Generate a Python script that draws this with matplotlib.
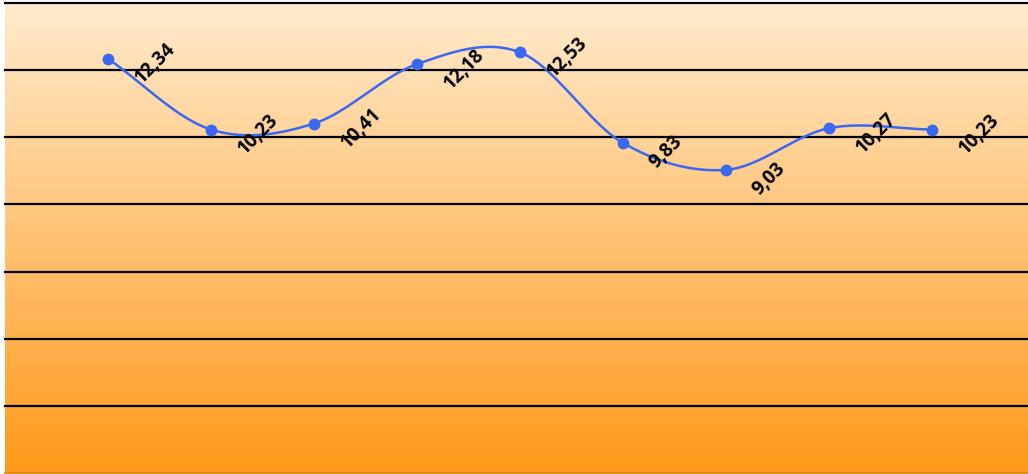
import numpy as np
import matplotlib
matplotlib.use("Agg")
import matplotlib.pyplot as plt
from matplotlib.colors import LinearSegmentedColormap

# Data
categories = [1, 2, 3, 4, 5, 6, 7, 8, 9]
values = [12.34, 10.23, 10.41, 12.18, 12.53, 9.83, 9.03, 10.27, 10.23]
labels = ["12,34", "10,23", "10,41", "12,18", "12,53", "9,83", "9,03", "10,27", "10,23"]
y_ticks = [0, 2, 4, 6, 8, 10, 12, 14]


def catmull_rom(x, y, n=40):
    x = np.asarray(x, float)
    y = np.asarray(y, float)
    px = np.concatenate([[2 * x[0] - x[1]], x, [2 * x[-1] - x[-2]]])
    py = np.concatenate([[2 * y[0] - y[1]], y, [2 * y[-1] - y[-2]]])
    xs, ys = [], []
    t = np.linspace(0, 1, n)
    for i in range(1, len(px) - 2):
        for p, out in ((px, xs), (py, ys)):
            p0, p1, p2, p3 = p[i - 1], p[i], p[i + 1], p[i + 2]
            out.append(0.5 * ((2 * p1) + (-p0 + p2) * t
                              + (2 * p0 - 5 * p1 + 4 * p2 - p3) * t ** 2
                              + (-p0 + 3 * p1 - 3 * p2 + p3) * t ** 3))
    return np.concatenate(xs), np.concatenate(ys)


W, H = 1028, 474
fig = plt.figure(figsize=(W / 100, H / 100), dpi=100)
ax = fig.add_axes([5 / W, 1 / H, 1 - 5 / W, 1 - 4 / H])

xmax = (W - 5) / 103.0
ax.set_xlim(0, xmax)
ax.set_ylim(0, 14)

cmap = LinearSegmentedColormap.from_list("bg", ["#FF991A", "#FFEBCD"])
grad = np.linspace(0, 1, 256).reshape(-1, 1)
ax.imshow(grad, cmap=cmap, origin="lower", aspect="auto",
          extent=[0, xmax, 0, 14], zorder=0)

for yv in y_ticks[1:]:
    ax.axhline(yv, color="black", lw=1.6, zorder=1, clip_on=False)

sx, sy = catmull_rom(categories, values)
ax.plot(sx, sy, color="#3A68F2", lw=1.8, zorder=3)
ax.plot(categories, values, "o", color="#3A68F2", ms=7.5, zorder=4)

for xv, yv, lab in zip(categories, values, labels):
    ax.annotate(lab, (xv, yv), xytext=(30, -22), textcoords="offset pixels",
                ha="left", va="center", rotation=45, rotation_mode="anchor",
                fontsize=13.5, fontweight="bold", family="Open Sans",
                color="black", zorder=5)

for s in ["left", "right", "top"]:
    ax.spines[s].set_visible(False)
ax.spines["bottom"].set_color("#D98000")
ax.spines["bottom"].set_linewidth(1.2)
ax.set_xticks([])
ax.set_yticks([])

fig.savefig("out.png", dpi=100, facecolor="white")
